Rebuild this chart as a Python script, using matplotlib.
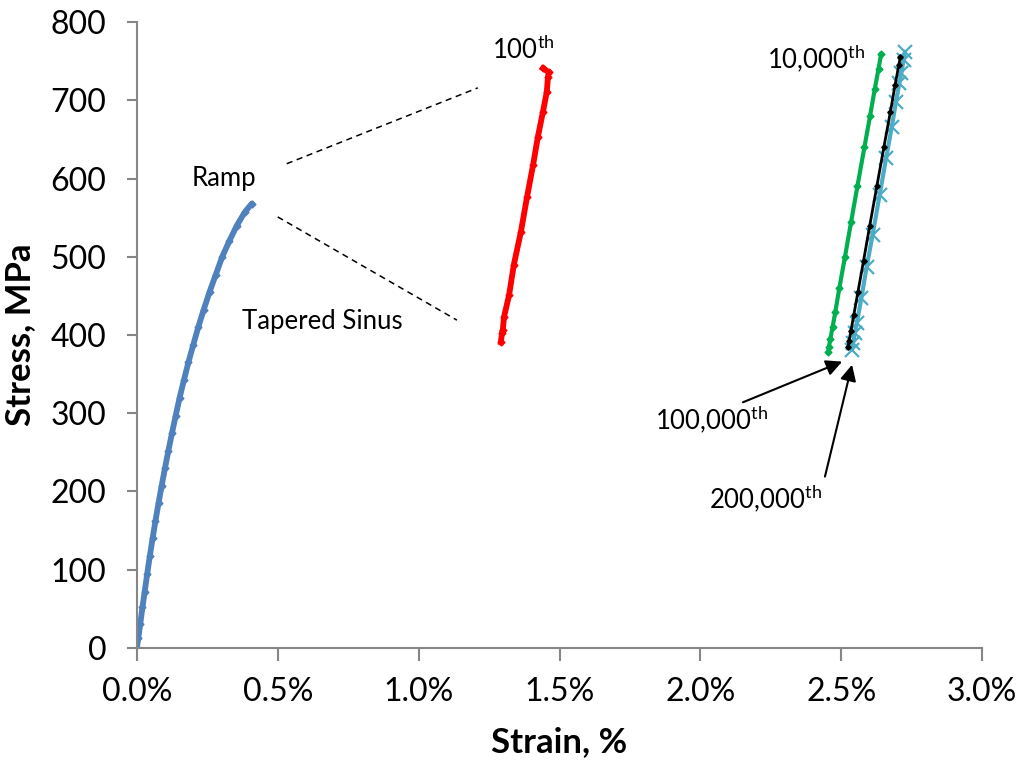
import matplotlib
matplotlib.use("Agg")
import matplotlib.pyplot as plt
from matplotlib.ticker import FuncFormatter, MultipleLocator

FONT = "Lato"
plt.rcParams["font.family"] = [FONT, "DejaVu Sans"]
plt.rcParams["mathtext.fontset"] = "custom"
plt.rcParams["mathtext.rm"] = FONT

# ramp (first loading)
ramp_strain = [0, 0.005, 0.012, 0.02, 0.028, 0.037, 0.046, 0.056, 0.066, 0.077, 0.088,
               0.1, 0.112, 0.125, 0.138, 0.152, 0.167, 0.183, 0.2, 0.218, 0.237,
               0.258, 0.28, 0.303, 0.328, 0.355, 0.383, 0.408]
ramp_stress = [0, 12, 30, 52, 72, 95, 117, 140, 162, 185, 207,
               230, 252, 275, 297, 320, 342, 365, 387, 410, 432,
               455, 477, 500, 520, 540, 557, 568]

# 100th cycle
c100_strain = [1.441, 1.462, 1.459, 1.455, 1.441, 1.423, 1.406, 1.385, 1.363, 1.338,
               1.321, 1.303, 1.299, 1.296, 1.292]
c100_stress = [741, 736, 730, 711, 685, 653, 617, 577, 532, 490,
               451, 423, 407, 403, 391]

# 10,000th cycle
c10k_strain = [2.453, 2.456, 2.461, 2.469, 2.479, 2.493, 2.513, 2.535, 2.557, 2.582,
               2.602, 2.619, 2.632, 2.641]
c10k_stress = [378, 385, 395, 410, 430, 460, 500, 545, 590, 640,
               680, 715, 740, 759]

# 100,000th cycle
c100k_strain = [2.524, 2.527, 2.534, 2.544, 2.559, 2.579, 2.601, 2.626, 2.651, 2.674,
                2.691, 2.704, 2.709]
c100k_stress = [385, 392, 405, 425, 455, 495, 540, 590, 640, 685,
                720, 745, 755]

# 200,000th cycle
c200k_strain = [2.726, 2.721, 2.713, 2.706, 2.694, 2.679, 2.659, 2.636, 2.611, 2.590,
                2.571, 2.555, 2.548, 2.542, 2.538]
c200k_stress = [762, 752, 735, 722, 698, 666, 626, 579, 528, 487,
                447, 415, 402, 390, 381]

fig = plt.figure(figsize=(10.21, 7.64), dpi=100)
ax = fig.add_axes([0.134, 0.152, 0.828, 0.819])

ax.plot(ramp_strain, ramp_stress, color="#4F81BD", lw=4.2, marker="D", ms=3.5,
        solid_capstyle="round")
ax.plot(c100_strain, c100_stress, color="#FF0000", lw=4.2, marker="D", ms=3.5)
ax.plot(c10k_strain, c10k_stress, color="#00B050", lw=3, marker="D", ms=3.5)
ax.plot(c200k_strain, c200k_stress, color="#4BACC6", lw=3, marker="x", ms=10, mew=1.6)
ax.plot(c100k_strain, c100k_stress, color="black", lw=2, marker="D", ms=2.8)

# dashed guide lines
ax.plot([0.532, 1.210], [619, 716], color="black", lw=1.1, ls=(0, (4, 3)))
ax.plot([0.500, 1.136], [551, 419], color="black", lw=1.1, ls=(0, (4, 3)))

TXT = 18.5
ax.text(0.31, 600, "Ramp", fontsize=TXT, ha="center", va="center")
ax.text(0.66, 417, "Tapered Sinus", fontsize=TXT, ha="center", va="center")
ax.text(1.37, 765, r"100$^{\mathrm{th}}$", fontsize=TXT, ha="center", va="center")
ax.text(2.41, 754, r"10,000$^{\mathrm{th}}$", fontsize=TXT, ha="center", va="center")
ax.text(2.04, 293, r"100,000$^{\mathrm{th}}$", fontsize=TXT, ha="center", va="center")
ax.text(2.23, 191, r"200,000$^{\mathrm{th}}$", fontsize=TXT, ha="center", va="center")

arrow = dict(arrowstyle="-|>", color="black", lw=1.5, mutation_scale=24,
             shrinkA=0, shrinkB=0)
ax.annotate("", xy=(2.503, 366), xytext=(2.151, 314), arrowprops=arrow)
ax.annotate("", xy=(2.538, 362), xytext=(2.442, 219), arrowprops=arrow)

ax.set_xlim(0, 3.0)
ax.set_ylim(0, 800)
ax.xaxis.set_major_locator(MultipleLocator(0.5))
ax.yaxis.set_major_locator(MultipleLocator(100))
ax.xaxis.set_major_formatter(FuncFormatter(lambda v, p: f"{v:.1f}%"))

for side in ["top", "right"]:
    ax.spines[side].set_visible(False)
for side in ["left", "bottom"]:
    ax.spines[side].set_color("#868686")
    ax.spines[side].set_linewidth(1.5)
ax.tick_params(direction="out", width=1.5, color="#868686", labelsize=23)
ax.tick_params(axis="y", length=7, pad=15)
ax.tick_params(axis="x", length=9, pad=12)

ax.set_xlabel("Strain, %", fontsize=25, fontweight="bold", labelpad=14)
ax.set_ylabel("Stress, MPa", fontsize=25, fontweight="bold", labelpad=10)

fig.savefig("out.png", dpi=100)
